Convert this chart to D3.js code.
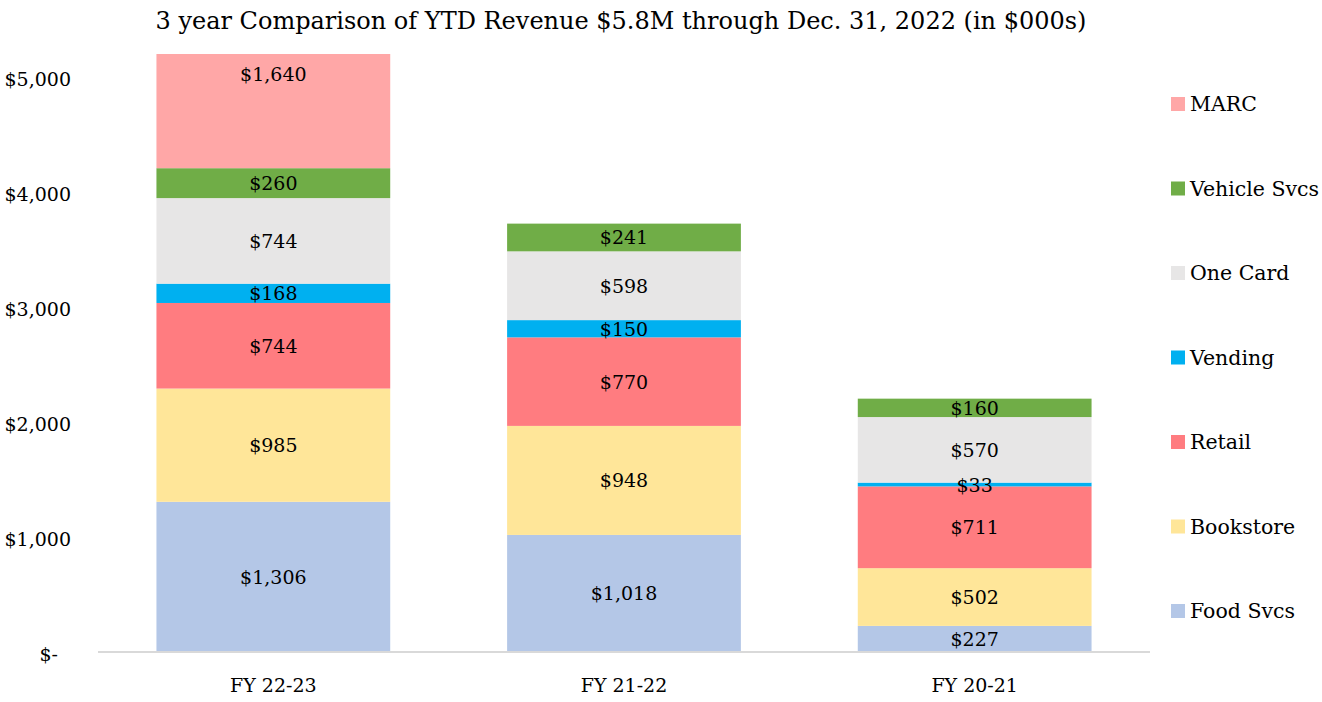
<!DOCTYPE html>
<html>
<head>
    <meta charset="utf-8">
    <title>YTD Revenue</title>
    <script src="https://d3js.org/d3.v7.min.js"></script>
    <style>
        body { margin: 0; background: #fff; }
        text { font-family: "DejaVu Serif", "Liberation Serif", serif; fill: #000; }
        .tick line { display: none; }
        .domain { display: none; }
    </style>
</head>
<body>
    <svg width="1322" height="702"></svg>
    <script>
        const years = ["FY 22-23", "FY 21-22", "FY 20-21"]
        const segments = ["Food Svcs", "Bookstore", "Retail", "Vending", "One Card", "Vehicle Svcs", "MARC"]
        const colors = ["#b4c7e7", "#ffe699", "#ff7c80", "#00b0f0", "#e7e6e6", "#70ad47", "#ffa7a7"]
        const foodSvcs = [1306, 1018, 227]
        const bookstore = [985, 948, 502]
        const retail = [744, 770, 711]
        const vending = [168, 150, 33]
        const oneCard = [744, 598, 570]
        const vehicleSvcs = [260, 241, 160]
        const marc = [1640, 0, 0]
        const yTicks = [0, 1000, 2000, 3000, 4000, 5000]

        const series = [foodSvcs, bookstore, retail, vending, oneCard, vehicleSvcs, marc]
        const rows = years.map((y, i) => {
            const r = { year: y }
            segments.forEach((s, j) => r[s] = series[j][i])
            return r
        })

        const svg = d3.select("svg")
        const margin = { top: 54, left: 98, right: 172, bottom: 50 }
        const width = +svg.attr("width")
        const innerWidth = width - margin.left - margin.right
        const innerHeight = 652 - margin.top

        const x = d3.scaleBand()
            .domain(years)
            .range([0, innerWidth])
            .paddingInner(1 / 3)
            .paddingOuter(1 / 6)

        const y = d3.scaleLinear()
            .domain([0, 5200])
            .range([innerHeight, 0])

        const stack = d3.stack().keys(segments)(rows)

        svg.append("defs").append("clipPath").attr("id", "plot")
            .append("rect").attr("width", innerWidth).attr("height", innerHeight)

        const g = svg.append("g")
            .attr("transform", `translate(${margin.left},${margin.top})`)

        const bars = g.append("g").attr("clip-path", "url(#plot)")
        bars.selectAll("g")
            .data(stack)
            .join("g")
            .attr("fill", (d, i) => colors[i])
            .selectAll("rect")
            .data(d => d)
            .join("rect")
            .attr("x", d => x(d.data.year))
            .attr("width", x.bandwidth())
            .attr("y", d => y(d[1]))
            .attr("height", d => y(d[0]) - y(d[1]))

        // axis line
        g.append("line")
            .attr("x1", 0).attr("x2", innerWidth)
            .attr("y1", y(0)).attr("y2", y(0))
            .attr("stroke", "#d9d9d9").attr("stroke-width", 2)

        // value labels, centred on the full segment (MARC is clipped at the top)
        const labels = g.append("g")
        stack.forEach(layer => {
            labels.selectAll(null)
                .data(layer.filter(d => d[1] - d[0] > 0))
                .join("text")
                .attr("x", d => x(d.data.year) + x.bandwidth() / 2)
                .attr("y", d => (y(d[0]) + y(d[1])) / 2 + 7)
                .attr("text-anchor", "middle")
                .style("font-size", "19px")
                .text(d => "$" + d3.format(",")(d[1] - d[0]))
        })

        // y axis
        const yAxis = d3.axisLeft(y)
            .tickValues(yTicks)
            .tickSize(0)
            .tickPadding(0)
            .tickFormat(d => d === 0 ? "$-" : "$" + d3.format(",")(d))
        const ya = svg.append("g")
            .attr("transform", `translate(71,${margin.top + 2})`)
            .call(yAxis)
        ya.selectAll("text")
            .style("font-size", "19px")
            .style("font-family", "DejaVu Serif, serif")
            .attr("dx", d => d === 0 ? -13 : 0)

        // x axis
        const xAxis = d3.axisBottom(x).tickSize(0).tickPadding(0)
        const xa = g.append("g")
            .attr("transform", `translate(0,${innerHeight + 26})`)
            .call(xAxis)
        xa.selectAll("text")
            .style("font-size", "19px")
            .style("font-family", "DejaVu Serif, serif")

        // legend
        const legend = svg.append("g")
            .attr("transform", "translate(1171,0)")
        const order = segments.slice().reverse()
        const item = legend.selectAll("g")
            .data(order)
            .join("g")
            .attr("transform", (d, i) => `translate(0,${104 + i * 84.5})`)
        item.append("rect")
            .attr("y", -7).attr("width", 14).attr("height", 14)
            .attr("fill", d => colors[segments.indexOf(d)])
        item.append("text")
            .attr("x", 19)
            .attr("y", 7)
            .style("font-size", "20.5px")
            .text(d => d)

        // title
        svg.append("text")
            .attr("x", 621)
            .attr("y", 29)
            .attr("text-anchor", "middle")
            .style("font-size", "24px")
            .text("3 year Comparison of YTD Revenue $5.8M through Dec. 31, 2022 (in $000s)")
    </script>
</body>
</html>
